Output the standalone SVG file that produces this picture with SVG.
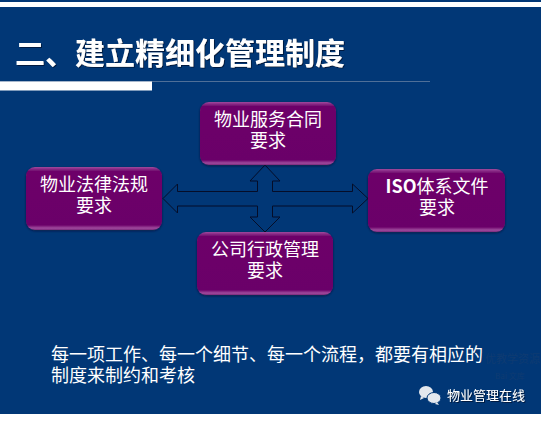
<svg xmlns="http://www.w3.org/2000/svg" width="543" height="421" viewBox="0 0 543 421">
<defs>
<style>
text{font-family:"Noto Sans CJK SC","Noto Sans",sans-serif;fill:#fff}
.n{font-size:18px;text-anchor:middle}
.cross{fill:none;stroke:#050d28;stroke-width:1}
</style>
<linearGradient id="g" x1="0" y1="0" x2="0" y2="1">
<stop offset="0" stop-color="#a04a9e"/><stop offset="0.07" stop-color="#6d0669"/><stop offset="0.92" stop-color="#6b0569"/><stop offset="0.97" stop-color="#a04a9e"/><stop offset="1" stop-color="#7a2a7c"/>
</linearGradient>
<filter id="s" x="-10%" y="-10%" width="120%" height="125%"><feDropShadow dx="0" dy="1" stdDeviation="1.2" flood-color="#0a1230" flood-opacity="0.7"/></filter>
<filter id="ts" x="-5%" y="-20%" width="110%" height="140%"><feDropShadow dx="1" dy="1" stdDeviation="0.6" flood-color="#06183a" flood-opacity="0.9"/></filter>
</defs>
<rect width="543" height="421" fill="#fff"/>
<rect width="541" height="414" fill="#013776"/>
<rect y="2" width="543" height="5" fill="#fff"/>
<rect y="81" width="430" height="1" fill="#4f6f98"/>
<rect y="81.500" width="152" height="9" fill="#fff"/>
<text id="title" x="15" y="64" font-size="30" font-weight="700" filter="url(#ts)">二、建立精细化管理制度</text>
<g id="connectors">
<path class="cross" d="M163 198.500L177.500 184V191.500H257.500V181H250L265 165L280 181H272.500V191.500H352.500V184L368 198.500L352.500 213V206H272.500V217H280L265 232L250 217H257.500V206H177.500V213Z"/>
</g>
<g id="node-top"><rect x="200" y="102" width="136" height="63" rx="9" fill="url(#g)" filter="url(#s)"/>
<text class="n" x="268" y="126">物业服务合同<tspan x="268" dy="21">要求</tspan></text></g>
<g id="node-bottom"><rect x="197" y="232" width="136" height="63" rx="9" fill="url(#g)" filter="url(#s)"/>
<text class="n" x="265" y="256">公司行政管理<tspan x="265" dy="21">要求</tspan></text></g>
<g id="node-left"><rect x="26" y="167" width="136" height="63" rx="9" fill="url(#g)" filter="url(#s)"/>
<text class="n" x="94" y="191">物业法律法规<tspan x="94" dy="21">要求</tspan></text></g>
<g id="node-right"><rect x="368" y="169" width="137" height="63" rx="9" fill="url(#g)" filter="url(#s)"/>
<text class="n" x="437" y="193"><tspan font-weight="700">ISO</tspan>体系文件<tspan x="437" dy="21">要求</tspan></text></g>
<text x="51" y="361" font-size="18">每一项工作、每一个细节、每一个流程，都要有相应的<tspan x="51" dy="21">制度来制约和考核</tspan></text>
<text x="485" y="363" font-size="11" style="fill:#0f3b72">优教学资源</text>
<text x="495" y="379" font-size="8" style="fill:#0f3b72">Bai 文库</text>
<g id="wechat">
<ellipse cx="426" cy="392" rx="7" ry="6" fill="#e4e8ee"/>
<path d="M421 396l-1 4 4-2z" fill="#e4e8ee"/>
<ellipse cx="434" cy="398" rx="7" ry="5.500" fill="#e4e8ee" stroke="#013776"/>
<path d="M437 402l2 3-4-1z" fill="#e4e8ee"/>
</g>
<text x="447" y="400" font-size="13" filter="url(#ts)">物业管理在线</text>
</svg>
